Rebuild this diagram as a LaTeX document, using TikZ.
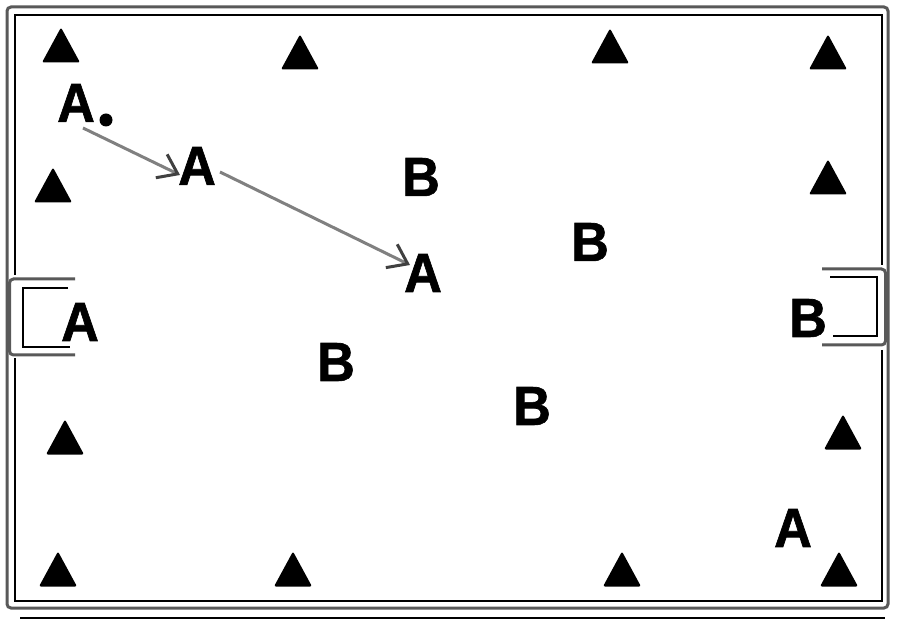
\documentclass[tikz,border=0pt]{standalone}
\usepackage{fontspec}
\newfontfamily\labfont{Liberation Sans}[FakeStretch=0.95,FakeBold=1.2]
\usetikzlibrary{arrows.meta}
\begin{document}
\begin{tikzpicture}[x=1pt,y=-1pt,
  lab/.style={inner sep=0pt,font=\labfont\bfseries\fontsize{55}{55}\selectfont},
  cone/.pic={\fill[black,rounded corners=2pt] (-19,17.5) -- (0,-17.5) -- (19,17.5) -- cycle;},
  move/.style={draw=black!50,line width=3pt,-{Straight Barb[length=18pt,width=26pt,color=black!75]}},
  outerline/.style={draw=black!65,line width=3pt,rounded corners=4pt},
  innerline/.style={draw=black,line width=1.4pt},
  goalline/.style={draw=black!65,line width=3pt,rounded corners=4pt}]
\useasboundingbox (0,0) rectangle (900,620);
\fill[white] (0,0) rectangle (900,620);
% pitch border
\draw[outerline] (7,7) rectangle (888,608);
\draw[innerline] (15,275) -- (15,15) -- (882,15) -- (882,265);
\draw[innerline] (882,350) -- (882,601) -- (15,601) -- (15,358);
\draw[innerline] (20,618) -- (885,618);
% goals
\draw[goalline] (75,279) -- (9.5,279) -- (9.5,355) -- (75,355);
\draw[innerline,line width=1.2pt] (68,288) -- (23,288) -- (23,347) -- (70,347);
\draw[goalline] (822,269) -- (885.5,269) -- (885.5,345) -- (822,345);
\draw[innerline,line width=1.2pt] (830,277) -- (877,277) -- (877,336) -- (833,336);
% cones
\foreach \p in {(61,45),(300,52),(610,46),(828,52),(53,185),(828,177),
                (65,437),(843,432),(58,569),(293,569),(622,569),(839,569)}
  \pic at \p {cone};
% players
\node[lab] (a1) at (76,103) {A};
\fill[black] (106,120) circle (6.5);
\node[lab] (a2) at (197,166) {A};
\node[lab] (a3) at (423,273) {A};
\node[lab] (a4) at (80,322) {A};
\node[lab] (a5) at (793,528) {A};
\node[lab] (b1) at (421,177) {B};
\node[lab] (b2) at (590,242) {B};
\node[lab] (b3) at (336,362) {B};
\node[lab] (b4) at (532,406) {B};
\node[lab] (b5) at (808,318) {B};
% runs
\draw[move] ([shift={(7,25)}]a1.center) -- ([shift={(-17,9)}]a2.center);
\draw[move] ([shift={(23,6)}]a2.center) -- ([shift={(-13,-8)}]a3.center);
\end{tikzpicture}
\end{document}
